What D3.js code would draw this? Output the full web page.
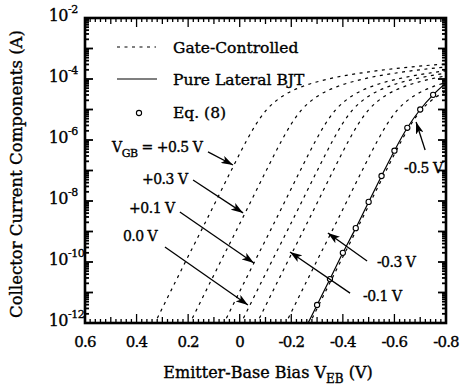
<!DOCTYPE html>
<html>
<head>
<meta charset="utf-8">
<script src="https://cdn.jsdelivr.net/npm/d3@7"></script>
<style>
  body { margin: 0; background: #fff; }
  text { font-family: "DejaVu Serif", serif; fill: #000; stroke: #000; stroke-width: 0.35px; }
</style>
</head>
<body>
<svg id="chart" width="466" height="391"></svg>
<script>
// gate-controlled curves, V_EB (V) and log10 of current (A)
const vgbLabels = ["+0.5", "+0.3", "+0.1", "0.0", "-0.1", "-0.3", "-0.5"];

const gcP05V = [0.359, 0.329, 0.270, 0.211, 0.151, 0.092, 0.033, -0.028, -0.062, -0.105, -0.136, -0.178, -0.242, -0.344, -0.515, -0.670, -0.806];
const gcP05I = [-12.5, -12, -11, -10, -9, -8, -7, -6, -5.5, -5, -4.75, -4.5, -4.25, -4, -3.75, -3.6, -3.5];

const gcP03V = [0.223, 0.193, 0.134, 0.075, 0.015, -0.044, -0.103, -0.164, -0.198, -0.241, -0.272, -0.314, -0.378, -0.480, -0.609, -0.697, -0.806];
const gcP03I = [-12.5, -12, -11, -10, -9, -8, -7, -6, -5.5, -5, -4.75, -4.5, -4.25, -4, -3.8, -3.7, -3.6];

const gcP01V = [0.091, 0.061, 0.002, -0.057, -0.117, -0.176, -0.235, -0.296, -0.330, -0.373, -0.404, -0.446, -0.510, -0.612, -0.670, -0.741, -0.829];
const gcP01I = [-12.5, -12, -11, -10, -9, -8, -7, -6, -5.5, -5, -4.75, -4.5, -4.25, -4, -3.9, -3.8, -3.7];

const gc00V = [0.025, -0.005, -0.064, -0.123, -0.183, -0.242, -0.301, -0.362, -0.396, -0.439, -0.470, -0.512, -0.576, -0.678, -0.736, -0.807];
const gc00I = [-12.5, -12, -11, -10, -9, -8, -7, -6, -5.5, -5, -4.75, -4.5, -4.25, -4, -3.9, -3.8];

const gcM01V = [-0.037, -0.067, -0.126, -0.185, -0.245, -0.304, -0.363, -0.424, -0.458, -0.501, -0.532, -0.574, -0.638, -0.693, -0.740, -0.798, -0.869];
const gcM01I = [-12.5, -12, -11, -10, -9, -8, -7, -6, -5.5, -5, -4.75, -4.5, -4.25, -4.1, -4, -3.9, -3.8];

const gcM03V = [-0.149, -0.179, -0.238, -0.297, -0.357, -0.416, -0.475, -0.536, -0.570, -0.613, -0.644, -0.686, -0.708, -0.750, -0.805];
const gcM03I = [-12.5, -12, -11, -10, -9, -8, -7, -6, -5.5, -5, -4.75, -4.5, -4.4, -4.25, -4.1];

const gcM05V = [-0.242, -0.272, -0.331, -0.390, -0.450, -0.509, -0.568, -0.629, -0.663, -0.706, -0.737, -0.760, -0.779, -0.801];
const gcM05I = [-12.5, -12, -11, -10, -9, -8, -7, -6, -5.5, -5, -4.75, -4.6, -4.5, -4.4];

// pure lateral BJT (solid) and Eq. (8) points
const latV = [-0.25, -0.30, -0.35, -0.40, -0.45, -0.50, -0.55, -0.60, -0.65, -0.70, -0.75, -0.80];
const latI = [-12.26, -11.41, -10.56, -9.70, -8.89, -8.03, -7.18, -6.35, -5.60, -5.00, -4.52, -4.13];
const eqV = [-0.30, -0.35, -0.40, -0.45, -0.50, -0.55, -0.60, -0.65, -0.70, -0.75];
const eqI = [-11.41, -10.56, -9.70, -8.89, -8.03, -7.18, -6.35, -5.60, -5.00, -4.52];

// arrows: label anchor, arrow start, arrow tip (V, log10 I)
const arrowLabelV = [0.495, 0.379, 0.429, 0.453, -0.478, -0.532, -0.637];
const arrowLabelI = [-6.39, -7.44, -8.39, -9.31, -11.28, -10.16, -7.08];
const arrowFromV = [0.123, 0.181, 0.232, 0.290, -0.428, -0.494, -0.719];
const arrowFromI = [-6.39, -7.31, -8.36, -9.51, -11.02, -9.97, -6.33];
const arrowToV = [0.026, -0.013, -0.055, -0.032, -0.195, -0.342, -0.684];
const arrowToI = [-6.82, -8.39, -10.03, -11.41, -9.67, -9.05, -5.41];

const xTickLabels = ["0.6", "0.4", "0.2", "0", "-0.2", "-0.4", "-0.6", "-0.8"];
const yLabelExps = [-2, -4, -6, -8, -10, -12];

const margin = { top: 18, right: 20, bottom: 68, left: 85 };
const W = 466, H = 391;
const x = d3.scaleLinear().domain([0.6, -0.8]).range([margin.left, W - margin.right]);
const y = d3.scaleLog().domain([1e-12, 1e-2]).range([H - margin.bottom, margin.top]);
const p10 = e => Math.pow(10, e);

const svg = d3.select("#chart");
svg.append("rect").attr("width", W).attr("height", H).attr("fill", "#fff");

svg.append("defs").append("clipPath").attr("id", "plot")
  .append("rect")
  .attr("x", margin.left).attr("y", margin.top)
  .attr("width", W - margin.left - margin.right)
  .attr("height", H - margin.top - margin.bottom);

svg.select("defs").append("marker")
  .attr("id", "head")
  .attr("viewBox", "0 0 12 8")
  .attr("refX", 12).attr("refY", 4)
  .attr("markerWidth", 12).attr("markerHeight", 8)
  .attr("markerUnits", "userSpaceOnUse")
  .attr("orient", "auto")
  .append("path").attr("d", "M0,0 L12,4 L0,8 L3,4 Z").attr("fill", "#000");

const line = d3.line()
  .x(d => x(d[0]))
  .y(d => y(p10(d[1])))
  .curve(d3.curveMonotoneX);

const curves = [
  [gcP05V, gcP05I], [gcP03V, gcP03I], [gcP01V, gcP01I], [gc00V, gc00I],
  [gcM01V, gcM01I], [gcM03V, gcM03I], [gcM05V, gcM05I]
];

const g = svg.append("g").attr("clip-path", "url(#plot)");

g.selectAll(".gc")
  .data(curves)
  .enter()
  .append("path")
  .attr("class", "gc")
  .attr("d", c => line(c[0].map((v, i) => [v, c[1][i]])))
  .style("fill", "none")
  .style("stroke", "#000")
  .style("stroke-width", "1.2px")
  .style("stroke-dasharray", "3,4.5");

g.append("path")
  .attr("d", line(latV.map((v, i) => [v, latI[i]])))
  .style("fill", "none")
  .style("stroke", "#000")
  .style("stroke-width", "1.2px");

g.selectAll(".eq")
  .data(eqV.map((v, i) => [v, eqI[i]]))
  .enter()
  .append("circle")
  .attr("cx", d => x(d[0]))
  .attr("cy", d => y(p10(d[1])))
  .attr("r", 2.6)
  .style("fill", "#fff")
  .style("stroke", "#000")
  .style("stroke-width", "1.1px");

// axis ticks, all four sides, pointing inward
const x0 = margin.left, x1 = W - margin.right, y0 = margin.top, y1 = H - margin.bottom;
const axes = svg.append("g").style("stroke", "#000");

for (let i = 0; i <= 70; i++) {
  const v = 0.6 - i * 0.02;
  const len = i % 10 === 0 ? 9 : i % 5 === 0 ? 6 : 4;
  axes.append("line").attr("x1", x(v)).attr("x2", x(v)).attr("y1", y1).attr("y2", y1 - len).style("stroke-width", 1.3);
  axes.append("line").attr("x1", x(v)).attr("x2", x(v)).attr("y1", y0).attr("y2", y0 + len).style("stroke-width", 1.3);
}

for (let e = -12; e <= -2; e++) {
  const ks = e < -2 ? [1, 2, 3, 4, 5, 6, 7, 8, 9] : [1];
  ks.forEach(k => {
    const yy = y(k * p10(e));
    const len = k === 1 ? 8 : 4;
    axes.append("line").attr("x1", x0).attr("x2", x0 + len).attr("y1", yy).attr("y2", yy).style("stroke-width", 1.8);
    axes.append("line").attr("x1", x1).attr("x2", x1 - len).attr("y1", yy).attr("y2", yy).style("stroke-width", 1.8);
  });
}

svg.append("rect")
  .attr("x", x0).attr("y", y0)
  .attr("width", x1 - x0).attr("height", y1 - y0)
  .style("fill", "none")
  .style("stroke", "#000")
  .style("stroke-width", 2.6);

// tick labels
svg.selectAll(".xl")
  .data(xTickLabels)
  .enter()
  .append("text")
  .attr("x", (d, i) => x(0.6 - i * 0.2))
  .attr("y", 347)
  .attr("text-anchor", "middle")
  .style("font-size", "15px")
  .style("letter-spacing", "-0.8px")
  .text(d => d);

yLabelExps.forEach(e => {
  const yy = y(p10(e));
  svg.append("text").attr("x", 68).attr("y", yy + 3).attr("text-anchor", "end")
    .style("font-size", "16px").style("letter-spacing", "-0.5px").text("10");
  svg.append("text").attr("x", 68).attr("y", yy - 5)
    .style("font-size", "11px").style("letter-spacing", "-0.5px").text(String(e));
});

// axis titles
const xt = svg.append("text").attr("x", 268).attr("y", 378).attr("text-anchor", "middle").style("font-size", "16px");
xt.append("tspan").text("Emitter-Base Bias V");
xt.append("tspan").attr("dy", 5).style("font-size", "12px").text("EB");
xt.append("tspan").attr("dy", -5).text(" (V)");

svg.append("text")
  .attr("transform", "translate(22,174) rotate(-90)")
  .attr("text-anchor", "middle")
  .style("font-size", "16.5px")
  .text("Collector Current Components (A)");

// legend
svg.append("line").attr("x1", 117).attr("x2", 156).attr("y1", 47).attr("y2", 47)
  .style("stroke", "#000").style("stroke-width", 1.2).style("stroke-dasharray", "3,4.5");
svg.append("text").attr("x", 173).attr("y", 53).style("font-size", "15.5px").text("Gate-Controlled");
svg.append("line").attr("x1", 117).attr("x2", 157).attr("y1", 79).attr("y2", 79)
  .style("stroke", "#000").style("stroke-width", 1.2);
svg.append("text").attr("x", 173).attr("y", 85).style("font-size", "15.5px").text("Pure Lateral BJT");
svg.append("circle").attr("cx", 139).attr("cy", 113).attr("r", 2.6)
  .style("fill", "#fff").style("stroke", "#000").style("stroke-width", 1.1);
svg.append("text").attr("x", 173).attr("y", 118).style("font-size", "15.5px").text("Eq. (8)");

// V_GB arrows
vgbLabels.forEach((lab, i) => {
  svg.append("line")
    .attr("x1", x(arrowFromV[i])).attr("y1", y(p10(arrowFromI[i])))
    .attr("x2", x(arrowToV[i])).attr("y2", y(p10(arrowToI[i])))
    .style("stroke", "#000").style("stroke-width", 1.3)
    .attr("marker-end", "url(#head)");
  const t = svg.append("text")
    .attr("x", x(arrowLabelV[i])).attr("y", y(p10(arrowLabelI[i])))
    .style("font-size", "14px").style("letter-spacing", "-0.5px");
  if (i === 0) {
    t.append("tspan").text("V");
    t.append("tspan").attr("dy", 5).style("font-size", "11px").text("GB");
    t.append("tspan").attr("dy", -5).text(" = " + lab + " V");
  } else {
    t.text(lab + " V");
  }
});
</script>
</body>
</html>
